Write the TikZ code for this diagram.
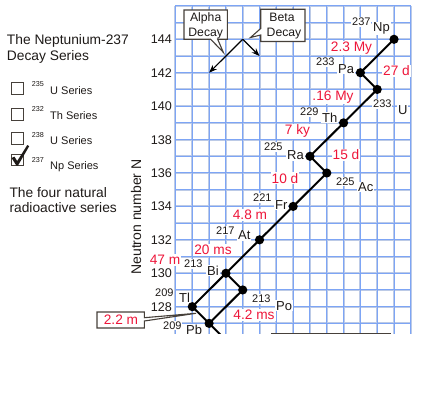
\documentclass[tikz,border=0pt]{standalone}
\usepackage{fontspec}
\setmainfont{Liberation Sans}
\usetikzlibrary{arrows.meta}
\definecolor{txt}{RGB}{30,26,24}
\definecolor{hlred}{RGB}{238,22,58}
\definecolor{gridA}{RGB}{188,202,230}
\definecolor{gridB}{RGB}{125,165,245}
\definecolor{boxc}{RGB}{70,64,58}
\begin{document}
\begin{tikzpicture}[x=1pt,y=-1pt,
 gl/.style={line width=2pt,gridA},
 gc/.style={line width=1pt,gridB},
 chainline/.style={line width=2pt,black},
 sym/.style={font=\fontsize{13}{13}\selectfont,text=txt,anchor=base west,inner sep=0.8pt,fill=white},
 mass/.style={font=\fontsize{11}{11}\selectfont,text=txt,anchor=base west,inner sep=0.8pt,fill=white},
 hl/.style={font=\fontsize{13.7}{13.7}\selectfont,text=hlred,anchor=base,inner sep=1pt,fill=white},
 ticklab/.style={font=\fontsize{12.6}{12.6}\selectfont,text=txt,anchor=base east,inner sep=0pt},
 lefttxt/.style={font=\fontsize{13.8}{13.8}\selectfont,text=txt,anchor=base west,inner sep=0pt},
 suptxt/.style={font=\fontsize{7.2}{7.2}\selectfont,text=txt,anchor=base west,inner sep=0pt},
 sertxt/.style={font=\fontsize{11}{11}\selectfont,text=txt,anchor=base west,inner sep=0pt},
 cbox/.style={draw=boxc,line width=1.1pt,minimum width=12.3pt,minimum height=11.7pt,inner sep=0pt},
 callout/.style={draw=boxc,line width=1.1pt,fill=white},
 decaytxt/.style={font=\fontsize{12.2}{12.2}\selectfont,text=txt,anchor=base,inner sep=0pt},
 decayarrow/.style={line width=1.2pt,-{Stealth[length=8pt,width=6pt]}}
]
\useasboundingbox (0,0) rectangle (427,412);
\begin{scope}
\clip (0,0) rectangle (427,333.8);
% grid
\foreach \z in {80,...,94} \draw[gl] ({192.3+(\z-81)*16.81},5.88) -- ({192.3+(\z-81)*16.81},334);
\foreach \n in {127,...,146} \draw[gl] (175.49,{39.3+(144-\n)*16.71}) -- (410.83,{39.3+(144-\n)*16.71});
\foreach \z in {80,...,94} \draw[gc] ({192.3+(\z-81)*16.81},5.88) -- ({192.3+(\z-81)*16.81},334);
\foreach \n in {127,...,146} \draw[gc] (175.49,{39.3+(144-\n)*16.71}) -- (410.83,{39.3+(144-\n)*16.71});

% tick labels
\foreach \n in {128,130,...,144} \node[ticklab] (t\n) at (172,{39.3+(144-\n)*16.71+4.5}) {\n};
\node[font=\fontsize{14}{14}\selectfont,text=txt,rotate=90,inner sep=0pt] (ylab) at (136,217) {Neutron number N};

% left text
\node[lefttxt] (title1) at (6.7,44.2) {The Neptunium-237};
\node[lefttxt] (title2) at (6.7,60.6) {Decay Series};
\node[cbox] (b1) at (17.2,88.2) {};
\node[cbox] (b2) at (17.2,114.2) {};
\node[cbox] (b3) at (17.2,138.4) {};
\node[cbox] (b4) at (17.2,160) {};
\node[suptxt] (s1) at (31.7,86.9) {235};
\node[sertxt] (l1) at (50,94.8) {U Series};
\node[suptxt] (s2) at (31.7,111.7) {232};
\node[sertxt] (l2) at (50,119.8) {Th Series};
\node[suptxt] (s3) at (31.7,137) {238};
\node[sertxt] (l3) at (50,144.8) {U Series};
\node[suptxt] (s4) at (31.7,162.6) {237};
\node[sertxt] (l4) at (50,169.6) {Np Series};
\fill[txt] (11.6,158) -- (14.4,156.6) -- (17.2,161) -- (27.3,145) -- (29.2,146.2) -- (18,165.5) -- (16.3,165.5) -- cycle;
\node[lefttxt] (four1) at (9.3,197.2) {The four natural};
\node[lefttxt] (four2) at (9.3,212.6) {radioactive series};

% legend callouts
\draw[callout] (184,10) -- (227.3,10) -- (227.3,39.3) -- (217.7,39.3) -- (223.3,52.3) -- (210.7,39.3) -- (184,39.3) -- cycle;
\node[decaytxt] (alpha1) at (205.7,22) {Alpha};
\node[decaytxt] (alpha2) at (205.7,37) {Decay};
\draw[callout] (260.7,9.3) -- (305,9.3) -- (305,41.5) -- (260.7,41.5) -- (260.7,35) -- (250.5,37.5) -- (260.7,28.5) -- cycle;
\node[decaytxt] (beta1) at (282,21.5) {Beta};
\node[decaytxt] (beta2) at (284,36.5) {Decay};
\coordinate (orig) at (242.73,39.3);
\coordinate (aend) at (209.11,72.72);
\coordinate (bend) at (259.54,56.01);
\draw[decayarrow] (orig) -- (aend);
\draw[decayarrow] (orig) -- (bend);

% nuclide coordinates
\coordinate (Np) at (394.02,39.30);
\coordinate (Pa) at (360.40,72.72);
\coordinate (U) at (377.21,89.43);
\coordinate (Th) at (343.59,122.85);
\coordinate (Ra) at (309.97,156.27);
\coordinate (Ac) at (326.78,172.98);
\coordinate (Fr) at (293.16,206.40);
\coordinate (At) at (259.54,239.82);
\coordinate (Bi) at (225.92,273.24);
\coordinate (Po) at (242.73,289.95);
\coordinate (Tl) at (192.30,306.66);
\coordinate (Pb) at (209.11,323.37);
\coordinate (Bin) at (225.92,340.08);

% nuclide labels
\node[mass] (mNp) at (351.2,25.9) {237};  \node[sym] (sNp) at (372.2,31.3) {Np};
\node[mass] (mPa) at (315.2,65.9) {233};  \node[sym] (sPa) at (337.2,73.3) {Pa};
\node[mass] (mU) at (372.2,107.7) {233};  \node[sym] (sU) at (397.2,114.6) {U};
\node[mass] (mTh) at (299.2,115.6) {229}; \node[sym] (sTh) at (321.2,122.1) {Th};
\node[mass] (mRa) at (263.2,150.6) {225}; \node[sym] (sRa) at (286.2,159.6) {Ra};
\node[mass] (mAc) at (335.2,185.2) {225}; \node[sym] (sAc) at (357.2,191.3) {Ac};
\node[mass] (mFr) at (252.2,201.9) {221}; \node[sym] (sFr) at (274.2,209.6) {Fr};
\node[mass] (mAt) at (215.2,234.2) {217}; \node[sym] (sAt) at (237.2,239.6) {At};
\node[mass] (mBi) at (183.2,267.6) {213}; \node[sym] (sBi) at (206.2,275) {Bi};
\node[mass] (mPo) at (251.2,302.7) {213}; \node[sym] (sPo) at (275.2,310) {Po};
\node[mass] (mTl) at (154.2,296.1) {209}; \node[sym] (sTl) at (178.2,302.3) {Tl};
\node[mass] (mPb) at (162.2,329.2) {209}; \node[sym] (sPb) at (185.2,334.3) {Pb};

% half-lives
\node[hl] (h1) at (351.5,51.5) {2.3 My};
\node[hl] (h2) at (396.5,75.8) {27 d};
\node[hl] (h3) at (333,100.5) {.16 My};
\node[hl] (h4) at (297.5,134.8) {7 ky};
\node[hl] (h5) at (346,159.8) {15 d};
\node[hl] (h6) at (285,183.1) {10 d};
\node[hl] (h7) at (250,219.8) {4.8 m};
\node[hl] (h8) at (213,254.8) {20 ms};
\node[hl] (h9) at (165,264.8) {47 m};
\node[hl] (h10) at (254,319.8) {4.2 ms};

% 2.2 m callout
\draw[callout] (97,312) -- (144.3,312) -- (144.3,317.7) -- (196,313.3) -- (144.3,321) -- (144.3,328) -- (97,328) -- cycle;
\node[hl,fill=none] (h11) at (121,324.8) {2.2 m};

% decay chain
\draw[chainline] (Np) -- (Pa) -- (U) -- (Th) -- (Ra) -- (Ac) -- (Fr) -- (At) -- (Bi) -- (Po) -- (Pb) -- (Bin);
\draw[chainline] (Bi) -- (Tl) -- (Pb);
\foreach \c in {Np,Pa,U,Th,Ra,Ac,Fr,At,Bi,Po,Tl,Pb} \fill (\c) circle (4.6);

% bottom box (cut)
\draw[boxc,line width=1.5pt] (271.7,345) -- (271.7,333.3) -- (390.7,333.3) -- (390.7,345);
\end{scope}
\end{tikzpicture}
\end{document}
